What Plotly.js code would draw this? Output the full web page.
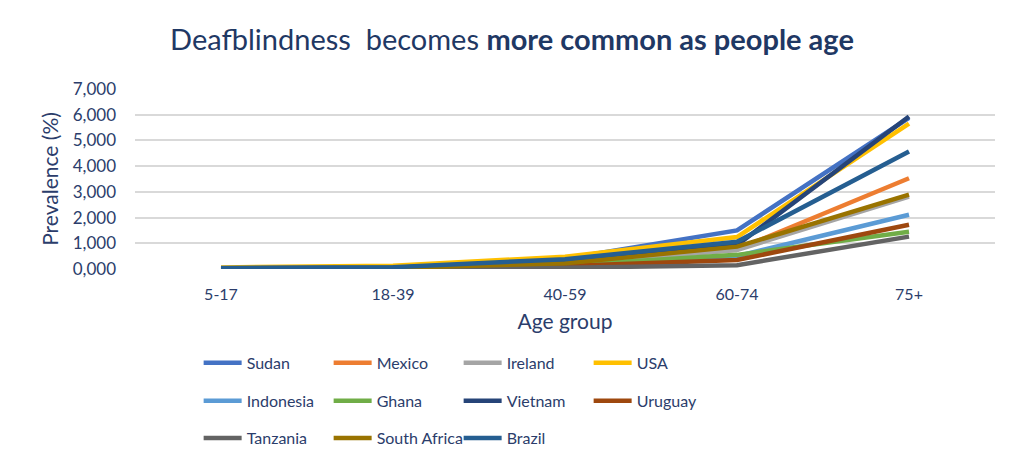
<!DOCTYPE html>
<html>
<head>
<meta charset="utf-8">
<script src="https://cdn.plot.ly/plotly-3.0.1.min.js"></script>
<style>html,body{margin:0;padding:0;background:#fff;}#chart{width:1024px;height:467px;}</style>
</head>
<body>
<div id="chart"></div>
<script>
const ageGroups = ["5-17", "18-39", "40-59", "60-74", "75+"];
const sudan       = [30, 60, 400, 1500, 5880];
const mexico      = [20, 40, 200, 760, 3530];
const ireland     = [20, 40, 180, 740, 2820];
const usa         = [60, 130, 480, 1240, 5650];
const indonesia   = [20, 35, 130, 500, 2110];
const ghana       = [20, 35, 150, 550, 1450];
const vietnam     = [25, 50, 300, 930, 5930];
const uruguay     = [15, 30, 120, 350, 1720];
const tanzania    = [10, 20, 50, 150, 1260];
const southAfrica = [25, 45, 220, 870, 2890];
const brazil      = [40, 70, 380, 1060, 4570];

const yTickVals = [0, 1000, 2000, 3000, 4000, 5000, 6000, 7000];
const yTickText = ["0,000", "1,000", "2,000", "3,000", "4,000", "5,000", "6,000", "7,000"];

const seriesNames = ["Sudan", "Mexico", "Ireland", "USA", "Indonesia", "Ghana", "Vietnam", "Uruguay", "Tanzania", "South Africa", "Brazil"];
const seriesValues = [sudan, mexico, ireland, usa, indonesia, ghana, vietnam, uruguay, tanzania, southAfrica, brazil];
const seriesColors = ["#4472C4", "#ED7D31", "#A5A5A5", "#FFC000", "#5B9BD5", "#70AD47", "#264478", "#9E480E", "#636363", "#997300", "#255E91"];
const legendIds = ["legend", "legend", "legend", "legend", "legend2", "legend2", "legend2", "legend2", "legend3", "legend3", "legend3"];

const FONT = "Lato, 'Open Sans', sans-serif";
const TXT = "#2B3D6B";

const traces = seriesNames.map((n, i) => ({
  type: "scatter",
  mode: "lines",
  name: n,
  x: ageGroups,
  y: seriesValues[i],
  line: {color: seriesColors[i], width: 4.5},
  legend: legendIds[i],
  hoverinfo: "x+y+name"
}));

const legendBase = {
  orientation: "h",
  xanchor: "left",
  yanchor: "middle",
  x: 0.074,
  font: {family: FONT, size: 16, color: TXT},
  itemwidth: 38,
  entrywidth: 77,
  entrywidthmode: "pixels",
  bgcolor: "rgba(0,0,0,0)",
  borderwidth: 0,
  traceorder: "normal"
};

const layout = {
  width: 1024,
  height: 467,
  paper_bgcolor: "#ffffff",
  plot_bgcolor: "#ffffff",
  margin: {l: 135, r: 29, t: 89, b: 198},
  font: {family: FONT, color: TXT},
  title: {
    text: "Deafblindness\u00a0 becomes <b>more common as people age</b>",
    font: {family: FONT, size: 29, color: "#1F3864"},
    x: 0.5, xref: "container", xanchor: "center",
    y: 1 - 40 / 467, yref: "container", yanchor: "middle"
  },
  xaxis: {
    type: "category",
    range: [-0.5, 4.5],
    showgrid: false,
    zeroline: false,
    showline: false,
    ticks: "",
    ticklabelstandoff: 14,
    tickfont: {family: FONT, size: 16, color: TXT},
    title: {text: "Age group", font: {family: FONT, size: 21, color: TXT}, standoff: 12}
  },
  yaxis: {
    range: [0, 7000],
    tickvals: yTickVals,
    ticktext: yTickText,
    showgrid: true,
    gridcolor: "#D9D9D9",
    gridwidth: 1.5,
    zeroline: false,
    showline: false,
    ticks: "",
    ticklabelstandoff: 18,
    tickfont: {family: FONT, size: 17, color: TXT},
    title: {text: "Prevalence (%)", font: {family: FONT, size: 21, color: TXT}, standoff: 8}
  },
  legend: Object.assign({}, legendBase, {y: -0.522}),
  legend2: Object.assign({}, legendBase, {y: -0.733}),
  legend3: Object.assign({}, legendBase, {y: -0.939}),
  showlegend: true
};

Plotly.newPlot("chart", traces, layout, {displayModeBar: false, staticPlot: false});
</script>
</body>
</html>
